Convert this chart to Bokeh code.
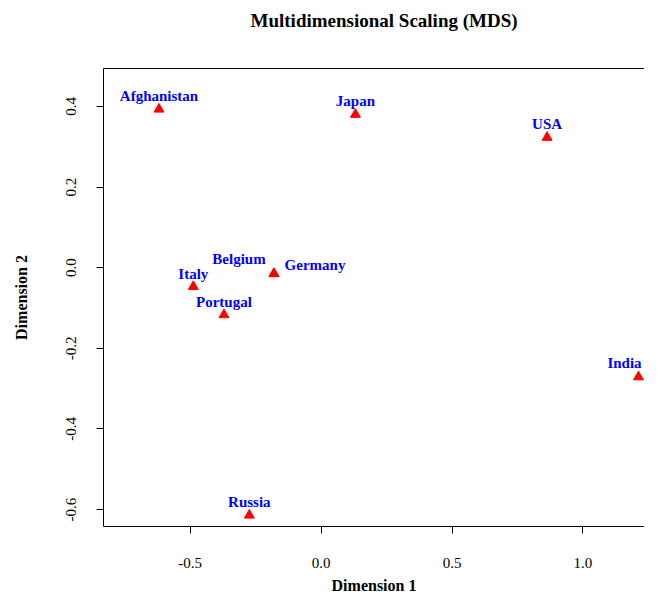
from bokeh.plotting import figure
from bokeh.models import FixedTicker, PrintfTickFormatter, LinearAxis, Range1d
from bokeh.core.properties import value
from bokeh.embed import file_html
from bokeh.resources import INLINE

countries = ["Afghanistan", "Japan", "USA", "Germany", "Belgium", "Italy", "Portugal", "India", "Russia"]
dim1 = [-0.619, 0.131, 0.863, -0.180, -0.180, -0.488, -0.371, 1.212, -0.274]
dim2 = [0.393, 0.380, 0.323, -0.015, -0.015, -0.047, -0.117, -0.271, -0.614]

x_ticks = [-0.5, 0.0, 0.5, 1.0]
y_ticks = [-0.6, -0.4, -0.2, 0.0, 0.2, 0.4]

SERIF = "Liberation Serif"
X0, X1 = -0.831, 1.235
Y0, Y1 = -0.642, 0.494

p = figure(width=644, height=598, output_backend="svg", toolbar_location=None,
           x_range=Range1d(X0, X1), y_range=Range1d(Y0, Y1),
           min_border_left=103, min_border_right=0, min_border_top=68, min_border_bottom=72)

p.grid.visible = False
p.outline_line_color = None
p.outline_line_alpha = 0
p.background_fill_color = "white"
p.border_fill_color = "white"

for ax in (p.xaxis[0], p.yaxis[0]):
    ax.axis_line_color = "black"
    ax.major_tick_line_color = "black"
    ax.minor_tick_line_color = None
    ax.major_tick_in = 0
    ax.major_tick_out = 7
    ax.major_label_text_font = SERIF
    ax.major_label_text_font_size = "15px"
    ax.major_label_text_color = "black"
    ax.axis_label_text_font = SERIF
    ax.axis_label_text_font_size = "16px"
    ax.axis_label_text_font_style = "bold"
    ax.axis_label_text_color = "black"

p.xaxis.ticker = FixedTicker(ticks=x_ticks)
p.xaxis.formatter = PrintfTickFormatter(format="%.1f")
p.xaxis.major_label_standoff = 24
p.xaxis.axis_label = "Dimension 1"
p.xaxis.axis_label_standoff = 6

p.yaxis.ticker = FixedTicker(ticks=y_ticks)
p.yaxis.formatter = PrintfTickFormatter(format="%.1f")
p.yaxis.major_label_orientation = "vertical"
p.yaxis.major_label_standoff = 20
p.yaxis.axis_label = "Dimension 2"
p.yaxis.axis_label_standoff = 34

# top frame line; a blank axis label reserves the gap under the title
top = LinearAxis(ticker=FixedTicker(ticks=[]), major_label_text_font_size="0px",
                 major_tick_line_color=None, minor_tick_line_color=None,
                 major_tick_out=0, major_tick_in=0, axis_line_color="black",
                 axis_label=" ", axis_label_text_font_size="10px", axis_label_standoff=24)
p.add_layout(top, "above")

p.title.text = "Multidimensional Scaling (MDS)"
p.title.align = "left"
p.title.offset = 147
p.title.standoff = 0
p.title.text_font = SERIF
p.title.text_font_size = "19px"
p.title.text_font_style = "bold"
p.title.text_color = "black"

p.scatter(dim1, dim2, marker="triangle", size=10, fill_color="red", line_color="red")

# label offsets in screen pixels (text placed above each point, with a few adjustments)
x_off = []
y_off = []
for c in countries:
    if c == "Germany":
        x_off.append(41); y_off.append(-9)
    elif c == "Belgium":
        x_off.append(-35); y_off.append(-15)
    elif c == "India":
        x_off.append(-14); y_off.append(-14)
    else:
        x_off.append(0); y_off.append(-13)

p.text(dim1, dim2, text=countries, x_offset=x_off, y_offset=y_off,
       text_align="center", text_baseline="middle", text_color="blue",
       text_font=value(SERIF), text_font_size="15px", text_font_style="bold")

open("out.html", "w").write(file_html(p, INLINE))
